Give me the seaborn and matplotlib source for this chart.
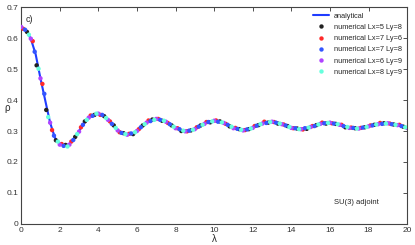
import matplotlib
matplotlib.use("Agg")
import matplotlib.pyplot as plt
import numpy as np
import pandas as pd
import seaborn as sns

# analytical curve, every 0.25
lam_an = np.arange(0, 20.01, 0.25)
rho_an = [0.637, 0.625, 0.598, 0.548, 0.470, 0.398, 0.327, 0.278, 0.258, 0.252,
          0.258, 0.275, 0.300, 0.325, 0.343, 0.353, 0.355, 0.350, 0.337, 0.320,
          0.303, 0.292, 0.289, 0.292, 0.302, 0.315, 0.327, 0.335, 0.338, 0.336,
          0.330, 0.320, 0.311, 0.304, 0.301, 0.302, 0.307, 0.315, 0.324, 0.330,
          0.332, 0.331, 0.326, 0.318, 0.311, 0.306, 0.304, 0.306, 0.311, 0.318,
          0.324, 0.328, 0.329, 0.327, 0.322, 0.316, 0.311, 0.308, 0.307, 0.309,
          0.313, 0.318, 0.323, 0.326, 0.326, 0.324, 0.320, 0.315, 0.311, 0.309,
          0.309, 0.311, 0.315, 0.319, 0.322, 0.324, 0.324, 0.322, 0.319, 0.315,
          0.312]

# numerical series
lam_58 = np.arange(0.3, 20, 0.5)
rho_58 = [0.620, 0.512, 0.368, 0.270, 0.255, 0.281, 0.331, 0.352, 0.348, 0.318,
          0.293, 0.290, 0.318, 0.337, 0.333, 0.318, 0.300, 0.302, 0.318, 0.328,
          0.331, 0.315, 0.306, 0.306, 0.319, 0.327, 0.324, 0.316, 0.308, 0.307,
          0.319, 0.324, 0.323, 0.312, 0.309, 0.312, 0.320, 0.325, 0.321, 0.314]

lam_76 = np.arange(0.1, 20, 0.5)
rho_76 = [0.630, 0.590, 0.452, 0.303, 0.258, 0.266, 0.312, 0.350, 0.352, 0.331,
          0.296, 0.291, 0.306, 0.334, 0.339, 0.326, 0.309, 0.299, 0.312, 0.329,
          0.334, 0.323, 0.310, 0.303, 0.316, 0.330, 0.329, 0.321, 0.309, 0.305,
          0.316, 0.327, 0.325, 0.320, 0.311, 0.310, 0.318, 0.326, 0.324, 0.320]

lam_78 = np.arange(0.2, 20, 0.5)
rho_78 = [0.627, 0.556, 0.420, 0.285, 0.252, 0.271, 0.320, 0.349, 0.352, 0.323,
          0.294, 0.292, 0.312, 0.332, 0.336, 0.322, 0.306, 0.301, 0.314, 0.329,
          0.330, 0.320, 0.307, 0.305, 0.317, 0.326, 0.327, 0.318, 0.309, 0.309,
          0.316, 0.325, 0.324, 0.316, 0.310, 0.311, 0.318, 0.323, 0.322, 0.316]

lam_69 = np.arange(0.0, 20.01, 0.5)
rho_69 = [0.636, 0.598, 0.470, 0.327, 0.256, 0.256, 0.298, 0.343, 0.356, 0.336,
          0.302, 0.288, 0.300, 0.327, 0.339, 0.330, 0.309, 0.299, 0.306, 0.323,
          0.333, 0.326, 0.309, 0.302, 0.310, 0.324, 0.330, 0.322, 0.310, 0.306,
          0.313, 0.323, 0.327, 0.320, 0.310, 0.308, 0.315, 0.322, 0.325, 0.319,
          0.310]

lam_89 = np.arange(0.4, 20, 0.5)
rho_89 = [0.611, 0.501, 0.345, 0.266, 0.250, 0.290, 0.336, 0.356, 0.342, 0.310,
          0.290, 0.296, 0.322, 0.336, 0.333, 0.314, 0.301, 0.304, 0.320, 0.331,
          0.328, 0.314, 0.304, 0.308, 0.322, 0.329, 0.324, 0.313, 0.306, 0.311,
          0.321, 0.326, 0.322, 0.313, 0.308, 0.313, 0.321, 0.324, 0.320, 0.312]

labels = ["numerical Lx=5 Ly=8", "numerical Lx=7 Ly=6", "numerical Lx=7 Ly=8",
          "numerical Lx=6 Ly=9", "numerical Lx=8 Ly=9"]
colors = ["#222222", "#ff2a2a", "#3355ff", "#b044ff", "#66ffdd"]

df_an = pd.DataFrame({"lam": lam_an, "rho": rho_an})
parts = []
for lab, x, y in zip(labels, [lam_58, lam_76, lam_78, lam_69, lam_89],
                     [rho_58, rho_76, rho_78, rho_69, rho_89]):
    parts.append(pd.DataFrame({"lam": x, "rho": y, "series": lab}))
df_num = pd.concat(parts, ignore_index=True)

sns.set_style("white")
plt.rcParams["font.family"] = ["Liberation Sans", "DejaVu Sans"]

fig = plt.figure(figsize=(4.15, 2.45), dpi=100)
ax = fig.add_axes([0.051, 0.086, 0.930, 0.885])

sns.lineplot(data=df_an, x="lam", y="rho", color="#1f3cff", lw=1.5,
             label="analytical", ax=ax, zorder=2)
sns.scatterplot(data=df_num, x="lam", y="rho", hue="series",
                palette=dict(zip(labels, colors)), s=10, linewidth=0,
                ax=ax, zorder=3)

ax.set_xlim(0, 20)
ax.set_ylim(0, 0.7)
ax.set_xticks(np.arange(0, 21, 2))
ax.set_yticks(np.arange(0, 0.71, 0.1))
ax.set_yticklabels(["0", "0.1", "0.2", "0.3", "0.4", "0.5", "0.6", "0.7"])
ax.tick_params(direction="in", length=3, width=0.6, labelsize=6,
               colors="#333333", top=True, right=True, pad=2)
for sp in ax.spines.values():
    sp.set_color("#444444")
    sp.set_linewidth(0.8)

ax.set_xlabel("λ", fontsize=7, labelpad=0)
ax.set_ylabel("ρ", fontsize=7, rotation=0, labelpad=6, va="center")
ax.yaxis.set_label_coords(-0.036, 0.535)

ax.text(0.012, 0.965, "c)", transform=ax.transAxes, fontsize=6.5,
        va="top", ha="left")
ax.text(16.2, 0.07, "SU(3) adjoint", fontsize=5.5, ha="left", va="center")

ax.legend(loc="upper right", frameon=False, fontsize=5.3, handlelength=2.2,
          handletextpad=0.6, labelspacing=0.55, borderaxespad=0.35,
          markerscale=1.0)

fig.savefig("out.png", dpi=100)
